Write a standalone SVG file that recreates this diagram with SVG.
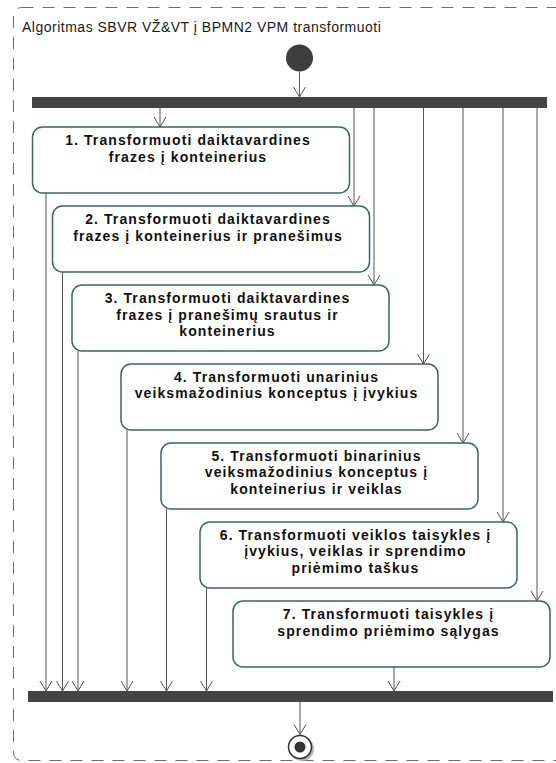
<svg xmlns="http://www.w3.org/2000/svg" width="556" height="763" viewBox="0 0 556 763">
  <defs>
    <style>
      .frame{fill:none;stroke:#6e6e6e;stroke-width:1;stroke-dasharray:12 9}
      .title{font-family:"Liberation Sans",Arial,sans-serif;font-size:14px;letter-spacing:0.5px;fill:#1a1a1a}
      .act rect{fill:#fff;stroke:#3a6666;stroke-width:1.5}
      .act text{font-family:"Liberation Sans",Arial,sans-serif;font-size:14px;font-weight:bold;letter-spacing:1.1px;fill:#111;text-anchor:middle}
      .bar{fill:#444}
      .flow{fill:none;stroke:#555;stroke-width:1}
    </style>
    <marker id="arrow" viewBox="-11 -7 12 14" refX="0" refY="0" markerWidth="12" markerHeight="14" markerUnits="userSpaceOnUse" orient="auto">
      <path d="M-10,-6 L0,0 L-10,6" fill="none" stroke="#555" stroke-width="1"/>
    </marker>
  </defs>

  <!-- activity frame -->
  <rect class="frame" x="13.5" y="7.5" width="600" height="753" rx="8"/>
  <text class="title" x="22" y="32">Algoritmas SBVR VŽ&amp;VT į BPMN2 VPM transformuoti</text>

  <!-- initial node -->
  <g id="start">
    <circle cx="299.5" cy="58" r="13.5" fill="#3d3d3d"/>
  </g>

  <!-- fork / join bars -->
  <g id="fork"><rect class="bar" x="32" y="97" width="515" height="11"/></g>
  <g id="join"><rect class="bar" x="28" y="691" width="525" height="11"/></g>

  <!-- actions -->
  <g id="a1" class="act">
    <rect x="32.5" y="127" width="317" height="66" rx="10"/>
    <text x="188" y="145">1. Transformuoti daiktavardines</text>
    <text x="188" y="161.7">frazes į konteinerius</text>
  </g>
  <g id="a2" class="act">
    <rect x="52.5" y="206" width="317" height="66" rx="10"/>
    <text x="208" y="224">2. Transformuoti daiktavardines</text>
    <text x="208" y="240.7">frazes į konteinerius ir pranešimus</text>
  </g>
  <g id="a3" class="act">
    <rect x="72" y="285" width="317" height="66" rx="10"/>
    <text x="227.5" y="303">3. Transformuoti daiktavardines</text>
    <text x="227.5" y="319.7">frazes į pranešimų srautus ir</text>
    <text x="227.5" y="336.4">konteinerius</text>
  </g>
  <g id="a4" class="act">
    <rect x="121" y="364" width="317" height="66" rx="10"/>
    <text x="276.5" y="381.5">4. Transformuoti unarinius</text>
    <text x="276.5" y="398.2">veiksmažodinius konceptus į įvykius</text>
  </g>
  <g id="a5" class="act">
    <rect x="161" y="443" width="317" height="66" rx="10"/>
    <text x="316.5" y="460.5">5. Transformuoti binarinius</text>
    <text x="316.5" y="477.2">veiksmažodinius konceptus į</text>
    <text x="316.5" y="493.9">konteinerius ir veiklas</text>
  </g>
  <g id="a6" class="act">
    <rect x="200" y="522" width="317" height="66" rx="10"/>
    <text x="355.5" y="539.5">6. Transformuoti veiklos taisykles į</text>
    <text x="355.5" y="556.2">įvykius, veiklas ir sprendimo</text>
    <text x="355.5" y="572.9">priėmimo taškus</text>
  </g>
  <g id="a7" class="act">
    <rect x="233" y="601" width="317" height="66" rx="10"/>
    <text x="388.5" y="619">7. Transformuoti taisykles į</text>
    <text x="388.5" y="635.7">sprendimo priėmimo sąlygas</text>
  </g>

  <!-- final node -->
  <g id="end">
    <circle cx="302" cy="749" r="12" fill="#b5b5b5"/>
    <circle cx="300" cy="747" r="11.5" fill="#fff" stroke="#333" stroke-width="1.5"/>
    <circle cx="300" cy="747" r="5.5" fill="#333"/>
  </g>

  <!-- control flows -->
  <g id="flows" class="flow" marker-end="url(#arrow)">
    <path d="M299.5,71.5 V97"/>
    <path d="M160,108 V127"/>
    <path d="M354,108 V206"/>
    <path d="M374,108 V285"/>
    <path d="M423.5,108 V364"/>
    <path d="M463,108 V443"/>
    <path d="M503,108 V522"/>
    <path d="M537,108 V601"/>
    <path d="M46,193 V691"/>
    <path d="M62.5,272 V691"/>
    <path d="M78,351 V691"/>
    <path d="M127,430 V691"/>
    <path d="M166.5,509 V691"/>
    <path d="M206.5,588 V691"/>
    <path d="M394,667 V691"/>
    <path d="M300,702 V734.5"/>
  </g>
</svg>
